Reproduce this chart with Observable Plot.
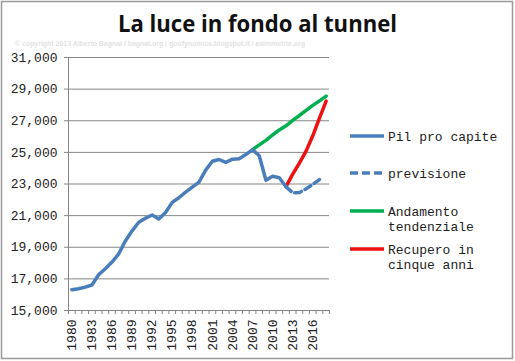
<!DOCTYPE html>
<html>
<head>
<meta charset="utf-8">
<script src="https://cdn.jsdelivr.net/npm/d3@7"></script>
<script src="https://cdn.jsdelivr.net/npm/@observablehq/plot@0.6"></script>
<style>
  html, body { margin: 0; padding: 0; background: #fff; }
  #chart { position: relative; width: 515px; height: 361px; }
  #chart svg { display: block; }
</style>
</head>
<body>
<div id="chart"></div>
<script>
// ---- data ----
const titleText = "La luce in fondo al tunnel";
const copyrightText = "\u00a9 copyright 2013 Alberto Bagnai / bagnai.org / goofynomics.blogspot.it / asimmetrie.org";

const years = [1980,1981,1982,1983,1984,1985,1986,1987,1988,1989,1990,1991,1992,1993,1994,1995,1996,1997,1998,1999,2000,2001,2002,2003,2004,2005,2006,2007,2008,2009,2010,2011,2012,2013,2014,2015,2016,2017,2018];

const pilYears = [1980,1981,1982,1983,1984,1985,1986,1987,1988,1989,1990,1991,1992,1993,1994,1995,1996,1997,1998,1999,2000,2001,2002,2003,2004,2005,2006,2007,2008,2009,2010,2011,2012];
const pilValues = [16310,16380,16480,16610,17260,17640,18060,18580,19400,20040,20580,20840,21040,20790,21200,21840,22130,22480,22800,23120,23880,24440,24550,24370,24570,24600,24860,25170,24790,23240,23490,23400,22830];

const previsioneYears = [2012,2013,2014,2015,2016,2017];
const previsioneValues = [22830,22450,22460,22690,22980,23280];

const tendenzaYears = [2007,2008,2009,2010,2011,2012,2013,2014,2015,2016,2017,2018];
const tendenzaValues = [25170,25470,25760,26100,26420,26680,27020,27330,27650,27970,28260,28560];

const recuperoYears = [2012,2013,2014,2015,2016,2017,2018];
const recuperoValues = [22830,23620,24320,25080,26050,27160,28240];

const yTicks = [15000,17000,19000,21000,23000,25000,27000,29000,31000];
const xTickLabels = [1980,1983,1986,1989,1992,1995,1998,2001,2004,2007,2010,2013,2016];

const seriesNames = ["Pil pro capite", "previsione", "Andamento tendenziale", "Recupero in cinque anni"];
const legendLines = [["Pil pro capite"], ["previsione"], ["Andamento", "tendenziale"], ["Recupero in", "cinque anni"]];
const seriesColors = ["#4a7ebb", "#4a7ebb", "#00b050", "#ee1111"];

// ---- build tables ----
const toRows = (xs, vs) => xs.map((x, i) => ({year: x, value: vs[i]}));
const pil = toRows(pilYears, pilValues);
const prev = toRows(previsioneYears, previsioneValues);
const tend = toRows(tendenzaYears, tendenzaValues);
const recu = toRows(recuperoYears, recuperoValues);

const x0 = years[0] - 0.5, x1 = years[years.length - 1] + 0.5;
const bounds = years.map(y => y - 0.5).concat([x1]);

const mono = "'Liberation Mono', 'DejaVu Sans Mono', monospace";
const gridColor = "#868686";

const plot = Plot.plot({
  width: 515,
  height: 361,
  marginLeft: 68,
  marginRight: 186,
  marginTop: 57,
  marginBottom: 51,
  x: {type: "linear", domain: [x0, x1], axis: null, label: null},
  y: {type: "linear", domain: [yTicks[0], yTicks[yTicks.length - 1]], axis: null, label: null},
  style: {background: "transparent", fontFamily: mono, fontSize: "13px", color: "#222"},
  marks: [
    Plot.ruleY(yTicks, {x1: x0, x2: x1, stroke: gridColor, strokeWidth: 1}),
    Plot.ruleX([x0], {stroke: gridColor, strokeWidth: 1}),
    Plot.axisY(yTicks, {anchor: "left", label: null, tickSize: 4, tickPadding: 7, stroke: gridColor, fill: "#222",
      tickFormat: d3.format(","), fontFamily: mono, fontSize: 13}),
    Plot.axisX(bounds, {anchor: "bottom", label: null, tickSize: 4, stroke: gridColor, tickFormat: () => ""}),
    Plot.axisX(xTickLabels, {anchor: "bottom", label: null, tickSize: 0, tickPadding: 9, tickRotate: -90, fill: "#222",
      tickFormat: d => String(d), fontFamily: mono, fontSize: 13}),
    Plot.line(tend, {x: "year", y: "value", stroke: seriesColors[2], strokeWidth: 3.5, strokeLinejoin: "round", strokeLinecap: "round"}),
    Plot.line(recu, {x: "year", y: "value", stroke: seriesColors[3], strokeWidth: 3.5, strokeLinejoin: "round", strokeLinecap: "round"}),
    Plot.line(prev, {x: "year", y: "value", stroke: seriesColors[1], strokeWidth: 3.5, strokeDasharray: "7,4", strokeLinejoin: "round"}),
    Plot.line(pil, {x: "year", y: "value", stroke: seriesColors[0], strokeWidth: 3.5, strokeLinejoin: "round", strokeLinecap: "round"})
  ]
});

document.getElementById("chart").appendChild(plot);

// ---- decorations: frame, title, copyright, legend ----
const svg = d3.select(plot);
svg.insert("rect", ":first-child")
  .attr("x", 1.5).attr("y", 1.5).attr("width", 511).attr("height", 357)
  .attr("fill", "#fff").attr("stroke", "#9a9a9a").attr("stroke-width", 1.5);

svg.append("text")
  .attr("x", 257.5).attr("y", 32)
  .attr("text-anchor", "middle")
  .attr("font-family", "'Open Sans', 'Noto Sans', sans-serif")
  .attr("font-weight", 700)
  .attr("font-size", 24)
  .attr("fill", "#111")
  .attr("textLength", 279)
  .attr("lengthAdjust", "spacingAndGlyphs")
  .text(titleText);

svg.append("text")
  .attr("x", 15).attr("y", 46)
  .attr("text-anchor", "start")
  .attr("font-family", "'Liberation Sans', Arial, sans-serif")
  .attr("font-weight", 700)
  .attr("font-size", 7.5)
  .attr("fill", "#e2e2e2")
  .attr("textLength", 290)
  .attr("lengthAdjust", "spacingAndGlyphs")
  .text(copyrightText);

const legendY = [136, 173, 211, 249];
const legendDash = [null, "8,4", null, null];
const lg = svg.append("g").attr("text-anchor", "start");
legendLines.forEach((lines, i) => {
  lg.append("line")
    .attr("x1", 350).attr("x2", 384).attr("y1", legendY[i]).attr("y2", legendY[i])
    .attr("stroke", seriesColors[i]).attr("stroke-width", 3.5)
    .attr("stroke-dasharray", legendDash[i]);
  lines.forEach((t, j) => {
    lg.append("text")
      .attr("x", 388).attr("y", legendY[i] + 4.5 + j * 15)
      .attr("text-anchor", "start")
      .attr("font-family", mono).attr("font-size", 13).attr("fill", "#222")
      .text(t);
  });
});
</script>
</body>
</html>
